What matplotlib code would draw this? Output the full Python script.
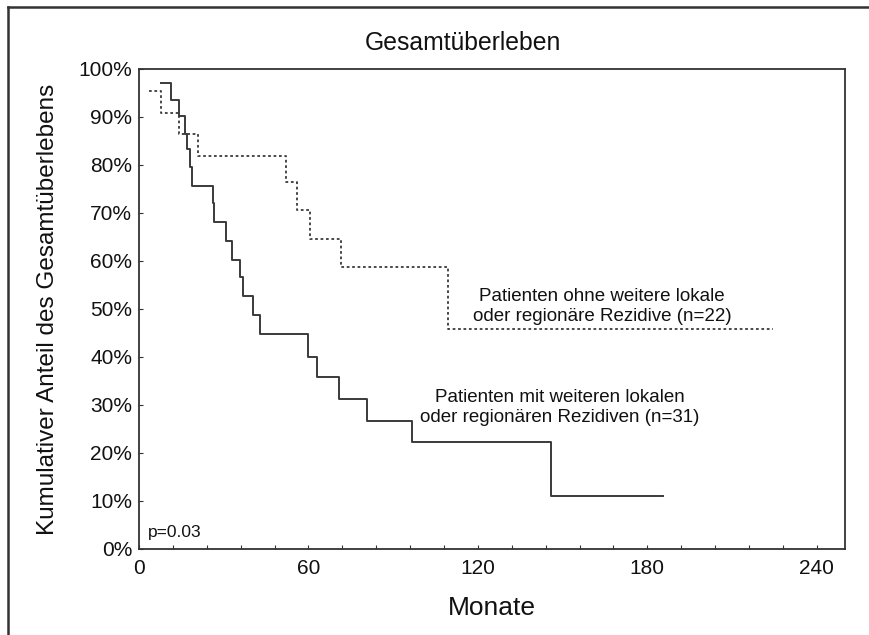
import matplotlib
matplotlib.use("Agg")
import matplotlib.pyplot as plt
from matplotlib.lines import Line2D

plt.rcParams['font.family'] = ['Liberation Sans', 'DejaVu Sans']

# Data (months, cumulative survival in %)
t_with = [7.7, 11.2, 14.3, 16.3, 17.1, 18.0, 18.8, 26.1, 26.7, 30.8, 32.8, 35.8, 36.9,
          40.5, 42.8, 59.9, 63.2, 70.9, 80.6, 96.7, 145.8, 185.6]
s_with = [97.1, 93.5, 90.2, 86.5, 83.3, 79.5, 75.6, 72.0, 68.1, 64.2, 60.3, 56.6, 52.7,
          48.8, 44.8, 40.0, 35.8, 31.3, 26.7, 22.2, 11.1, 11.1]
t_without = [3.6, 7.7, 14.3, 21.0, 52.0, 56.0, 60.5, 71.5, 109.5, 224.4]
s_without = [95.5, 90.9, 86.4, 81.8, 76.4, 70.6, 64.6, 58.8, 45.8, 45.8]

x_ticks = [0, 60, 120, 180, 240]
y_ticks = list(range(0, 101, 10))
y_ticklabels = [f"{v}%" for v in y_ticks]

fig = plt.figure(figsize=(8.7, 6.35), dpi=100)
ax = fig.add_axes([139/870, 1-549/635, (845-139)/870, (549-69)/635])

line_col = '#3a3a3a'
ax.step(t_with, s_with, where='post', color=line_col, lw=1.4)
ax.step(t_without, s_without, where='post', color=line_col, lw=1.3,
        linestyle=(0, (1.5, 1.5)))

ax.set_xlim(0, 250)
ax.set_ylim(0, 100)
ax.set_xticks(x_ticks)
ax.set_xticks(range(0, 250, 12), minor=True)
ax.set_yticks(y_ticks)
ax.set_yticklabels(y_ticklabels)
ax.tick_params(axis='both', which='both', direction='in', length=3, width=0.8,
               colors='#333333', labelcolor='#111111', labelsize=15, pad=4)
ax.tick_params(axis='y', pad=5)
ax.tick_params(axis='x', pad=7)
for sp in ax.spines.values():
    sp.set_color('#333333')
    sp.set_linewidth(1.3)

ax.set_xlabel('Monate', fontsize=19, color='#111111', labelpad=13)
ax.set_ylabel('Kumulativer Anteil des Gesamtüberlebens', fontsize=17.5,
              color='#111111', labelpad=14)
fig.text(463/870, 1-43/635, 'Gesamtüberleben', fontsize=17.8, ha='center',
         va='center', color='#111111')

ax.text(3, 3.5, 'p=0.03', fontsize=12.5, color='#111111', ha='left', va='center')
ax.text(164, 50.5, 'Patienten ohne weitere lokale\noder regionäre Rezidive (n=22)',
        fontsize=13.5, ha='center', va='center', color='#111111', linespacing=1.2)
ax.text(149, 29.5, 'Patienten mit weiteren lokalen\noder regionären Rezidiven (n=31)',
        fontsize=13.5, ha='center', va='center', color='#111111', linespacing=1.2)

# figure frame (left and top edges visible)
fig.add_artist(Line2D([8/870, 8/870], [0, 1-7/635], transform=fig.transFigure,
                      color='#333333', lw=1.8))
fig.add_artist(Line2D([8/870, 1], [1-7/635, 1-7/635], transform=fig.transFigure,
                      color='#333333', lw=1.8))

fig.savefig('out.png', dpi=100)
